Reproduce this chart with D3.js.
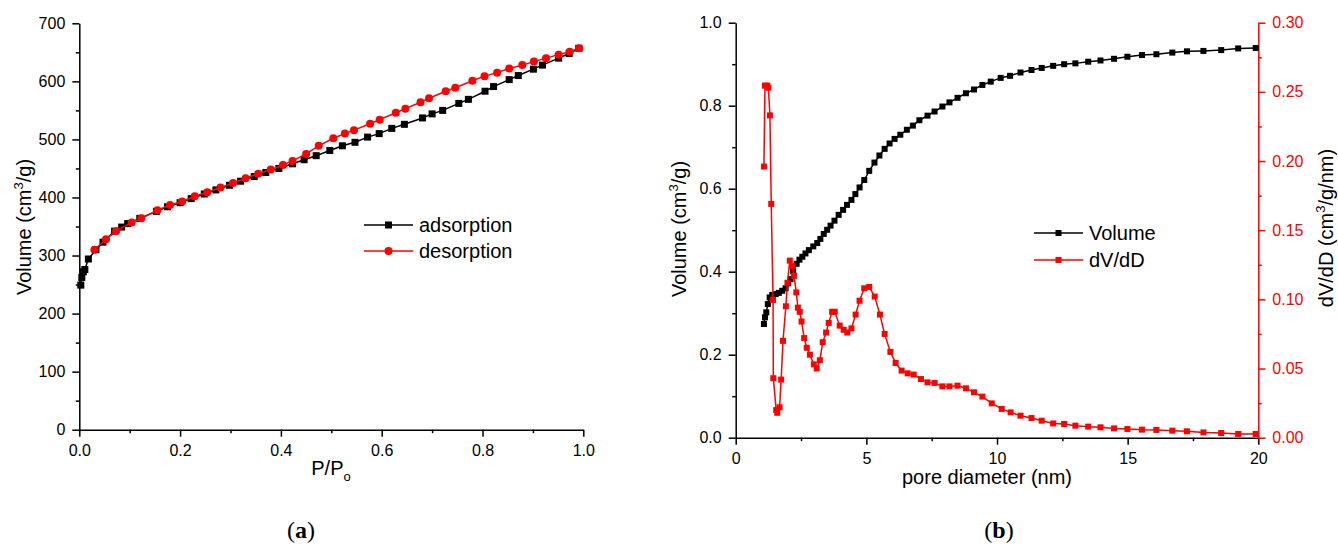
<!DOCTYPE html>
<html>
<head>
<meta charset="utf-8">
<script src="https://cdn.jsdelivr.net/npm/d3@7"></script>
<style>
  body { margin: 0; background: #fff; }
  svg { display: block; }
  .tick text { font-family: "Liberation Sans", Arial, sans-serif; }
</style>
</head>
<body>
<div id="chart"></div>
<script>

// ---- data (a): N2 isotherm, P/Po vs volume (cm3/g)
const adsP = [0.003, 0.005, 0.008, 0.011, 0.018, 0.033, 0.047, 0.07, 0.084, 0.096, 0.12, 0.153, 0.175, 0.2, 0.222, 0.248, 0.271, 0.298, 0.32, 0.347, 0.37, 0.396, 0.423, 0.446, 0.47, 0.497, 0.522, 0.547, 0.572, 0.595, 0.62, 0.645, 0.681, 0.7, 0.721, 0.753, 0.772, 0.805, 0.822, 0.853, 0.871, 0.901, 0.919, 0.951, 0.972, 0.991];
const adsV = [249, 262, 272, 276, 294, 310, 323, 342, 349, 355, 364, 376, 384, 391, 398, 406, 413, 421, 428, 436, 443, 450, 458, 465, 472, 481, 489, 495, 504, 510, 519, 526, 537, 544, 550, 562, 569, 583, 591, 603, 610, 621, 628, 640, 648, 657];
const desP = [0.03, 0.053, 0.073, 0.104, 0.123, 0.155, 0.18, 0.204, 0.229, 0.254, 0.28, 0.305, 0.33, 0.355, 0.38, 0.404, 0.423, 0.45, 0.475, 0.504, 0.527, 0.545, 0.577, 0.596, 0.628, 0.647, 0.677, 0.694, 0.727, 0.746, 0.78, 0.804, 0.829, 0.853, 0.879, 0.902, 0.926, 0.951, 0.973, 0.992];
const desV = [310, 328, 342, 357, 364, 378, 387, 393, 402, 409, 417, 425, 433, 441, 448, 456, 463, 475, 489, 502, 510, 516, 527, 534, 546, 553, 564, 571, 583, 589, 601, 609, 615, 622, 628, 634, 640, 646, 651, 657];

// ---- data (b): pore size distribution
const volD = [1.08, 1.12, 1.17, 1.23, 1.3, 1.4, 1.53, 1.65, 1.78, 1.91, 2.01, 2.1, 2.2, 2.33, 2.44, 2.55, 2.67, 2.8, 2.97, 3.12, 3.24, 3.37, 3.5, 3.63, 3.78, 3.94, 4.11, 4.26, 4.43, 4.58, 4.74, 4.92, 5.11, 5.31, 5.5, 5.7, 5.89, 6.08, 6.3, 6.55, 6.78, 7.03, 7.34, 7.61, 7.91, 8.18, 8.49, 8.81, 9.12, 9.44, 9.76, 10.14, 10.5, 10.9, 11.32, 11.71, 12.15, 12.57, 13.0, 13.49, 13.96, 14.48, 14.99, 15.55, 16.1, 16.71, 17.27, 17.9, 18.58, 19.23, 19.9];
const volV = [0.274, 0.29, 0.302, 0.322, 0.338, 0.344, 0.346, 0.349, 0.354, 0.36, 0.372, 0.382, 0.401, 0.419, 0.429, 0.436, 0.444, 0.452, 0.461, 0.469, 0.479, 0.491, 0.501, 0.511, 0.523, 0.537, 0.549, 0.561, 0.573, 0.587, 0.603, 0.621, 0.643, 0.663, 0.68, 0.696, 0.709, 0.72, 0.73, 0.742, 0.752, 0.765, 0.776, 0.786, 0.798, 0.808, 0.819, 0.83, 0.839, 0.85, 0.858, 0.867, 0.872, 0.88, 0.886, 0.891, 0.896, 0.9, 0.902, 0.906, 0.909, 0.913, 0.918, 0.922, 0.924, 0.928, 0.931, 0.932, 0.934, 0.938, 0.939];
const dvD = [1.08, 1.12, 1.21, 1.25, 1.31, 1.36, 1.43, 1.44, 1.55, 1.59, 1.68, 1.74, 1.81, 1.92, 1.98, 2.07, 2.16, 2.23, 2.32, 2.38, 2.45, 2.52, 2.62, 2.72, 2.84, 2.99, 3.1, 3.22, 3.33, 3.46, 3.56, 3.69, 3.79, 3.98, 4.13, 4.27, 4.43, 4.59, 4.74, 4.92, 5.11, 5.32, 5.52, 5.7, 5.92, 6.12, 6.35, 6.58, 6.81, 7.09, 7.34, 7.61, 7.91, 8.18, 8.49, 8.81, 9.12, 9.44, 9.8, 10.18, 10.52, 10.9, 11.32, 11.71, 12.15, 12.57, 13.0, 13.49, 13.96, 14.48, 14.99, 15.55, 16.1, 16.71, 17.27, 17.9, 18.58, 19.23, 19.9];
const dvV = [0.196, 0.2545, 0.2545, 0.253, 0.233, 0.169, 0.0996, 0.043, 0.02, 0.018, 0.022, 0.042, 0.07, 0.095, 0.112, 0.128, 0.124, 0.117, 0.105, 0.094, 0.091, 0.084, 0.072, 0.065, 0.06, 0.053, 0.05, 0.056, 0.069, 0.076, 0.083, 0.091, 0.091, 0.081, 0.078, 0.076, 0.079, 0.089, 0.099, 0.108, 0.109, 0.102, 0.089, 0.075, 0.062, 0.054, 0.0485, 0.0465, 0.0456, 0.0424, 0.04, 0.0396, 0.0371, 0.0371, 0.0376, 0.0357, 0.0328, 0.0297, 0.0248, 0.0208, 0.0183, 0.0159, 0.0142, 0.0123, 0.0103, 0.0099, 0.0087, 0.008, 0.0075, 0.0067, 0.0063, 0.0058, 0.0056, 0.0051, 0.0046, 0.0038, 0.0034, 0.0027, 0.0027];

// tick values
const aXTicks = [0, 0.2, 0.4, 0.6, 0.8, 1.0];
const aYTicks = [0, 100, 200, 300, 400, 500, 600, 700];
const bXTicks = [0, 5, 10, 15, 20];
const bYTicks = [0, 0.2, 0.4, 0.6, 0.8, 1.0];
const bY2Ticks = [0, 0.05, 0.1, 0.15, 0.2, 0.25, 0.3];

const W = 1338, H = 547;
const RED = "#ff0000";
const SANS = "'Liberation Sans', Arial, sans-serif";
const SERIF = "'Liberation Serif', 'Times New Roman', serif";

const svg = d3.select("#chart").append("svg").attr("width", W).attr("height", H);
svg.append("rect").attr("width", W).attr("height", H).attr("fill", "#fff");

const zip = (xs, ys) => xs.map((x, i) => [x, ys[i]]);

// draw an axis with major labelled ticks + unlabelled minor ticks
function drawAxis(g, axisFn, scale, major, minor, fmt, color, fontSize, pad) {
    g.append("g").call(axisFn(scale).tickValues(minor).tickSize(3.5).tickSizeOuter(0).tickFormat(""))
        .call(s => s.select(".domain").remove());
    g.append("g").call(axisFn(scale).tickValues(major).tickSize(7).tickSizeOuter(0).tickPadding(pad).tickFormat(fmt))
        .call(s => s.selectAll("text").style("font-size", fontSize + "px").attr("fill", color));
    g.selectAll("line, path").attr("stroke", color).attr("stroke-width", 1.5);
}

function series(g, pts, x, y, color, shape, size) {
    g.append("path").datum(pts)
        .attr("fill", "none").attr("stroke", color).attr("stroke-width", 1.5)
        .attr("d", d3.line().x(d => x(d[0])).y(d => y(d[1])));
    if (shape === "circle") {
        g.selectAll(null).data(pts).enter().append("circle")
            .attr("cx", d => x(d[0])).attr("cy", d => y(d[1])).attr("r", size / 2).attr("fill", color);
    } else {
        g.selectAll(null).data(pts).enter().append("rect")
            .attr("x", d => x(d[0]) - size / 2).attr("y", d => y(d[1]) - size / 2)
            .attr("width", size).attr("height", size).attr("fill", color);
    }
}

function legendRow(g, x0, y0, label, color, shape, size) {
    g.append("line").attr("x1", x0).attr("x2", x0 + 49).attr("y1", y0).attr("y2", y0)
        .attr("stroke", color).attr("stroke-width", 1.5);
    if (shape === "circle") g.append("circle").attr("cx", x0 + 24.5).attr("cy", y0).attr("r", size / 2).attr("fill", color);
    else g.append("rect").attr("x", x0 + 24.5 - size / 2).attr("y", y0 - size / 2).attr("width", size).attr("height", size).attr("fill", color);
    g.append("text").attr("x", x0 + 55).attr("y", y0).attr("dy", "0.35em")
        .style("font-family", SANS).style("font-size", "20px").text(label);
}

function supLabel(g, x, y, parts, rot, anchor) {
    const t = g.append("text").attr("transform", `translate(${x},${y}) rotate(${rot})`)
        .attr("text-anchor", anchor || "middle").style("font-family", SANS).style("font-size", "20px");
    parts.forEach(p => {
        const ts = t.append("tspan").text(p.t);
        if (p.sup) ts.attr("dy", -8).style("font-size", "13px");
        if (p.sub) ts.attr("dy", 6).style("font-size", "13px");
        if (p.back) ts.attr("dy", p.back);
    });
    return t;
}

/////////////////////////////  (a)  /////////////////////////////
const ax = d3.scaleLinear().domain([0, 1]).range([79.3, 583.3]);
const ay = d3.scaleLinear().domain([0, 700]).range([429.7, 23.3]);
const ga = svg.append("g");

drawAxis(ga.append("g").attr("transform", `translate(0,${ay(0)})`), d3.axisBottom, ax,
    aXTicks, d3.range(0.1, 1, 0.2), d3.format(".1f"), "#000", 16, 8);
drawAxis(ga.append("g").attr("transform", `translate(${ax(0)},0)`), d3.axisLeft, ay,
    aYTicks, d3.range(50, 700, 100), d3.format("d"), "#000", 16, 7);

series(ga, zip(adsP, adsV), ax, ay, "#000", "rect", 7);
series(ga, zip(desP, desV), ax, ay, RED, "circle", 8);

legendRow(ga, 364, 225, "adsorption", "#000", "rect", 7);
legendRow(ga, 364, 251, "desorption", RED, "circle", 8);

supLabel(ga, 31, 227, [{t: "Volume (cm"}, {t: "3", sup: true}, {t: "/g)", back: 8}], -90);
supLabel(ga, 331, 475, [{t: "P/P"}, {t: "o", sub: true}], 0);

ga.append("text").attr("x", 301).attr("y", 538).attr("text-anchor", "middle")
    .style("font-family", SERIF).style("font-size", "24px")
    .html('(<tspan font-weight="bold">a</tspan>)');

/////////////////////////////  (b)  /////////////////////////////
const bx = d3.scaleLinear().domain([0, 20]).range([735.7, 1258.3]);
const by = d3.scaleLinear().domain([0, 1]).range([437.7, 22.7]);
const by2 = d3.scaleLinear().domain([0, 0.3]).range([437.7, 22.7]);
const gb = svg.append("g");

drawAxis(gb.append("g").attr("transform", `translate(0,${by(0)})`), d3.axisBottom, bx,
    bXTicks, d3.range(2.5, 20, 5), d3.format("d"), "#000", 16, 8);
drawAxis(gb.append("g").attr("transform", `translate(${bx(0)},0)`), d3.axisLeft, by,
    bYTicks, d3.range(0.1, 1, 0.2), d3.format(".1f"), "#000", 16, 7);
drawAxis(gb.append("g").attr("transform", `translate(${bx(20)},0)`), d3.axisRight, by2,
    bY2Ticks, d3.range(0.025, 0.3, 0.05), d3.format(".2f"), RED, 16, 7);

series(gb, zip(volD, volV), bx, by, "#000", "rect", 6);
series(gb, zip(dvD, dvV), bx, by2, RED, "rect", 6);

legendRow(gb, 1034, 233, "Volume", "#000", "rect", 6);
legendRow(gb, 1034, 260, "dV/dD", RED, "rect", 6);

supLabel(gb, 686, 229, [{t: "Volume (cm"}, {t: "3", sup: true}, {t: "/g)", back: 8}], -90);
supLabel(gb, 1333, 228, [{t: "dV/dD (cm"}, {t: "3", sup: true}, {t: "/g/nm)", back: 8}], -90);
supLabel(gb, 987, 484, [{t: "pore diameter (nm)"}], 0);

gb.append("text").attr("x", 999).attr("y", 538).attr("text-anchor", "middle")
    .style("font-family", SERIF).style("font-size", "24px")
    .html('(<tspan font-weight="bold">b</tspan>)');

</script>
</body>
</html>
